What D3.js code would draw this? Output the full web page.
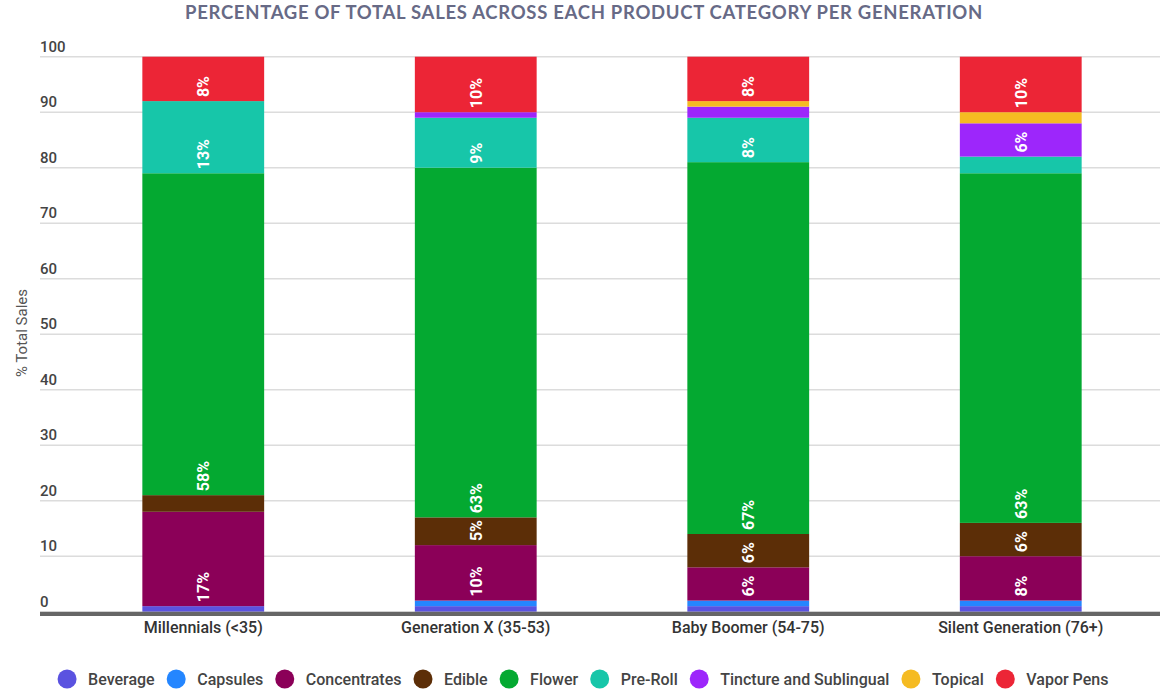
<!DOCTYPE html>
<html>
<head>
    <meta charset="utf-8">
    <title>Sales by Generation</title>
    <script src="https://d3js.org/d3.v7.min.js"></script>
    <style>
        body { margin: 0; background: #fff; }
        text { font-family: Roboto, "Noto Sans", sans-serif; }
    </style>
</head>
<body>
    <svg id="chart"></svg>

    <script>
        // Chart data
        const generations = ["Millennials (<35)", "Generation X (35-53)", "Baby Boomer (54-75)", "Silent Generation (76+)"];
        const products = ["Beverage", "Capsules", "Concentrates", "Edible", "Flower", "Pre-Roll", "Tincture and Sublingual", "Topical", "Vapor Pens"];
        const beverage = [1, 1, 1, 1];
        const capsules = [0, 1, 1, 1];
        const concentrates = [17, 10, 6, 8];
        const edible = [3, 5, 6, 6];
        const flower = [58, 63, 67, 63];
        const preRoll = [13, 9, 8, 3];
        const tincture = [0, 1, 2, 6];
        const topical = [0, 0, 1, 2];
        const vaporPens = [8, 10, 8, 10];
        const yTicks = [0, 10, 20, 30, 40, 50, 60, 70, 80, 90, 100];

        const colors = ["#5a52e0", "#2486ff", "#8b0058", "#5c2e07", "#04a931", "#17c6a9", "#9d26fb", "#f5bb22", "#ec2536"];
        const seriesValues = [beverage, capsules, concentrates, edible, flower, preRoll, tincture, topical, vaporPens];

        // Build rows for d3.stack
        const rows = generations.map((g, i) => {
            const row = { generation: g };
            products.forEach((p, j) => row[p] = seriesValues[j][i]);
            return row;
        });

        const width = 1170, height = 698;
        const svg = d3.select("#chart")
            .attr("width", width)
            .attr("height", height);

        const x = d3.scaleBand()
            .domain(generations)
            .range([67, 1157])
            .paddingInner(0.553)
            .paddingOuter(0.2765);

        const y = d3.scaleLinear()
            .domain([0, 100])
            .range([611.7, 56.7]);

        const color = d3.scaleOrdinal().domain(products).range(colors);

        // Title
        svg.append("text")
            .attr("x", 584)
            .attr("y", 19)
            .attr("text-anchor", "middle")
            .style("font-family", "Lato, sans-serif")
            .style("font-weight", "bold")
            .style("font-size", "18.5px")
            .style("letter-spacing", "0.7px")
            .style("fill", "#676a86")
            .text("PERCENTAGE OF TOTAL SALES ACROSS EACH PRODUCT CATEGORY PER GENERATION");

        // Gridlines + tick labels
        const grid = svg.append("g").attr("class", "grid");
        grid.selectAll("line")
            .data(yTicks.filter(t => t > 0))
            .join("line")
                .attr("x1", 40)
                .attr("x2", 1160)
                .attr("y1", d => y(d))
                .attr("y2", d => y(d))
                .attr("stroke", "#dcdcdc")
                .attr("stroke-width", 1.5);

        grid.selectAll("text")
            .data(yTicks)
            .join("text")
                .attr("x", 40)
                .attr("y", d => y(d) - 5)
                .style("font-size", "15px")
                .style("font-weight", 500)
                .style("fill", "#444")
                .text(d => d);

        // Y axis title
        svg.append("text")
            .attr("transform", "translate(27, 333) rotate(-90)")
            .attr("text-anchor", "middle")
            .style("font-size", "15px")
            .style("fill", "#555")
            .text("% Total Sales");

        // Stacked bars
        const stacked = d3.stack().keys(products)(rows);

        const layer = svg.append("g")
            .selectAll("g")
            .data(stacked)
            .join("g")
                .attr("fill", d => color(d.key));

        layer.selectAll("rect")
            .data(d => d)
            .join("rect")
                .attr("x", d => x(d.data.generation))
                .attr("width", x.bandwidth())
                .attr("y", d => y(d[1]))
                .attr("height", d => y(d[0]) - y(d[1]));

        // Segment labels (only for segments of 5% or more)
        layer.selectAll("text")
            .data(d => d.filter(s => s[1] - s[0] >= 5))
            .join("text")
                .attr("transform", d => `translate(${x(d.data.generation) + x.bandwidth() / 2 + 6}, ${y(d[0]) - 4}) rotate(-90)`)
                .attr("text-anchor", "start")
                .style("font-size", "16px")
                .style("font-weight", "bold")
                .style("fill", "#fff")
                .text(d => (d[1] - d[0]) + "%");

        // Baseline
        svg.append("rect")
            .attr("x", 40)
            .attr("y", y(0))
            .attr("width", 1120)
            .attr("height", 4.3)
            .attr("fill", "#666");

        // X labels
        svg.append("g")
            .selectAll("text")
            .data(generations)
            .join("text")
                .attr("x", d => x(d) + x.bandwidth() / 2)
                .attr("y", 633)
                .attr("text-anchor", "middle")
                .style("font-size", "16px")
                .style("font-weight", 500)
                .style("fill", "#333")
                .text(d => d);

        // Legend
        const legend = svg.append("g").attr("class", "legend");
        const items = legend.selectAll("g")
            .data(products)
            .join("g");
        items.append("circle")
            .attr("r", 9.5)
            .attr("cy", 0)
            .attr("fill", d => color(d));
        items.append("text")
            .attr("x", 21)
            .attr("y", 5.5)
            .style("font-size", "16px")
            .style("font-weight", 500)
            .style("fill", "#444")
            .text(d => d);

        let cursor = 0;
        items.each(function() {
            const w = d3.select(this).select("text").node().getComputedTextLength();
            d3.select(this).attr("transform", `translate(${cursor}, 0)`);
            cursor += 21 + w + 21.5;
        });
        const total = cursor - 21.5 + 9.5;
        legend.attr("transform", `translate(${583 - total / 2 + 9.5}, 679)`);
    </script>
</body>
</html>
